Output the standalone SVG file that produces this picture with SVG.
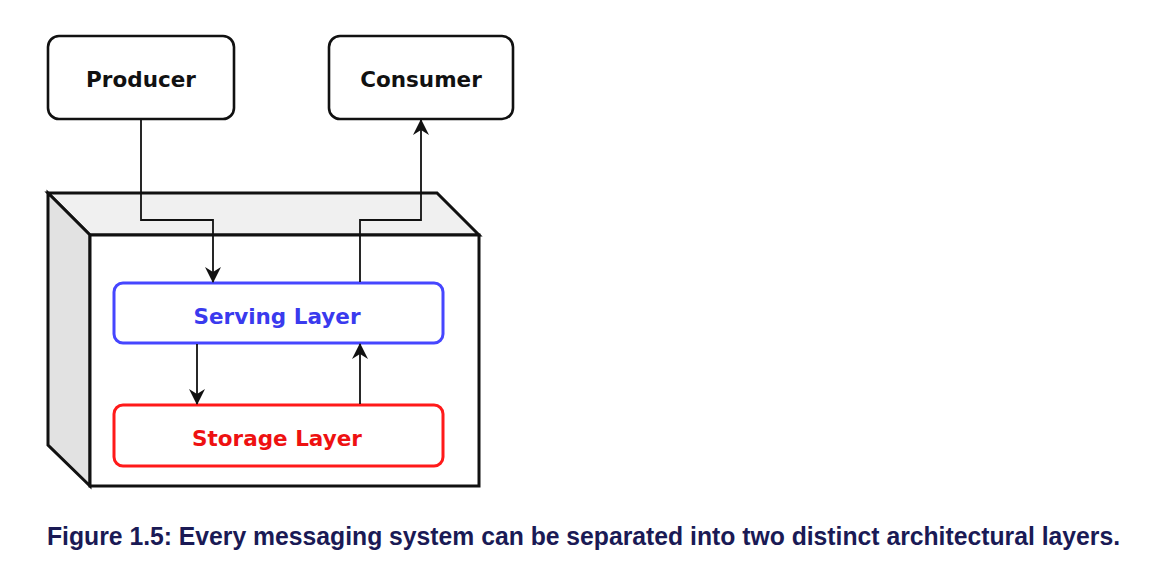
<svg xmlns="http://www.w3.org/2000/svg" width="1157" height="572" viewBox="0 0 1157 572">
<defs>
<style>
.node{fill:#fff;stroke:#111;stroke-width:2.6}
.lbl{font-family:"DejaVu Sans",Verdana,sans-serif;font-weight:bold;font-size:21.5px;text-anchor:middle}
.edge{fill:none;stroke:#111;stroke-width:1.8}
.cube{stroke:#111;stroke-width:3;stroke-linejoin:miter}
</style>
<marker id="arr" markerUnits="userSpaceOnUse" markerWidth="16" markerHeight="18" viewBox="0 0 16 18" refX="15" refY="9" orient="auto">
<path d="M0,1 L16,9 L0,17 L5,9 z" fill="#111"/>
</marker>
</defs>
<rect width="1157" height="572" fill="#fff"/>
<g id="cube">
<polygon class="cube" points="48,193 437,193 479,235 90,235" fill="#f0f0f0"/>
<polygon class="cube" points="48,193 90,235 90,486 48,445" fill="#e2e2e2"/>
<rect class="cube" x="90" y="235" width="389" height="251" fill="#fff"/>
</g>
<g id="producer">
<rect class="node" x="48" y="36" width="186" height="83" rx="11"/>
<text class="lbl" x="141" y="87" fill="#111">Producer</text>
</g>
<g id="consumer">
<rect class="node" x="329" y="36" width="184" height="83" rx="11"/>
<text class="lbl" x="421" y="87" fill="#111">Consumer</text>
</g>
<g id="serving">
<rect x="114" y="283" width="329" height="60" rx="9" fill="#fff" stroke="#4646ff" stroke-width="3"/>
<text class="lbl" x="277" y="324" fill="#3a3aee">Serving Layer</text>
</g>
<g id="storage">
<rect x="114" y="405" width="329" height="61" rx="9" fill="#fff" stroke="#ff1a1a" stroke-width="3"/>
<text class="lbl" x="277" y="446" fill="#ee1111">Storage Layer</text>
</g>
<g id="connectors">
<path class="edge" d="M141,119 V220 H213 V282" marker-end="url(#arr)"/>
<path class="edge" d="M360,282 V220 H421 V120" marker-end="url(#arr)"/>
<path class="edge" d="M197,344 V404" marker-end="url(#arr)"/>
<path class="edge" d="M360,404 V344" marker-end="url(#arr)"/>
</g>
<text x="47" y="545" font-family="'Liberation Sans',Arial,sans-serif" font-weight="bold" font-size="25" fill="#1a1a55" textLength="1073" lengthAdjust="spacingAndGlyphs">Figure 1.5: Every messaging system can be separated into two distinct architectural layers.</text>
</svg>
